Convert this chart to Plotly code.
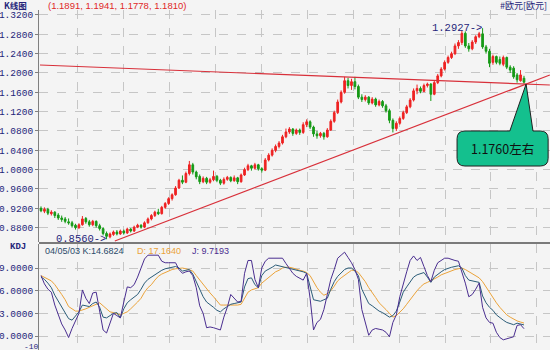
import plotly.graph_objects as go

# Weekly EUR/USD candles (oldest first), last bar dated 04/05/03
opens = [0.920, 0.914, 0.918, 0.909, 0.912, 0.906, 0.900, 0.898, 0.892, 0.890,
         0.885, 0.880, 0.886, 0.899, 0.892, 0.886, 0.893, 0.884, 0.878, 0.868,
         0.861, 0.866, 0.871, 0.867, 0.873, 0.869, 0.877, 0.873, 0.881, 0.885,
         0.881, 0.890, 0.898, 0.905, 0.912, 0.909, 0.922, 0.930, 0.940, 0.948,
         0.962, 0.978, 0.974, 0.992, 1.010, 0.995, 0.986, 0.975, 0.982, 0.974,
         0.979, 0.986, 0.978, 0.972, 0.980, 0.984, 0.977, 0.983, 0.975, 0.989,
         1.000, 1.008, 1.003, 1.010, 1.002, 0.999, 1.020, 1.030, 1.040, 1.048,
         1.055, 1.068, 1.078, 1.084, 1.075, 1.082, 1.077, 1.093, 1.099, 1.088,
         1.074, 1.070, 1.075, 1.068, 1.082, 1.100, 1.118, 1.140, 1.160, 1.184,
         1.174, 1.182, 1.172, 1.150, 1.145, 1.150, 1.138, 1.146, 1.134, 1.141,
         1.132, 1.122, 1.102, 1.085, 1.096, 1.106, 1.118, 1.130, 1.144, 1.163,
         1.168, 1.162, 1.174, 1.177, 1.156, 1.180, 1.194, 1.208, 1.222, 1.232,
         1.240, 1.256, 1.263, 1.282, 1.256, 1.250, 1.264, 1.275, 1.281, 1.254,
         1.245, 1.222, 1.234, 1.228, 1.218, 1.232, 1.212, 1.210, 1.196, 1.184,
         1.1891]
highs = [0.924, 0.922, 0.921, 0.916, 0.914, 0.910, 0.905, 0.902, 0.899, 0.894,
         0.888, 0.889, 0.904, 0.902, 0.896, 0.896, 0.895, 0.888, 0.881, 0.872,
         0.870, 0.874, 0.875, 0.876, 0.876, 0.880, 0.879, 0.884, 0.888, 0.887,
         0.893, 0.901, 0.908, 0.915, 0.919, 0.925, 0.933, 0.943, 0.951, 0.966,
         0.981, 0.988, 0.996, 1.018, 1.014, 0.998, 0.990, 0.986, 0.985, 0.983,
         0.998, 0.989, 0.981, 0.984, 0.987, 0.986, 0.988, 0.985, 0.992, 1.004,
         1.012, 1.010, 1.014, 1.012, 1.005, 1.024, 1.034, 1.044, 1.052, 1.059,
         1.072, 1.085, 1.088, 1.086, 1.085, 1.085, 1.098, 1.104, 1.102, 1.091,
         1.080, 1.078, 1.078, 1.086, 1.104, 1.122, 1.145, 1.164, 1.192, 1.190,
         1.188, 1.192, 1.176, 1.156, 1.154, 1.152, 1.150, 1.149, 1.145, 1.144,
         1.136, 1.126, 1.106, 1.100, 1.110, 1.122, 1.134, 1.148, 1.168, 1.176,
         1.172, 1.178, 1.180, 1.179, 1.184, 1.198, 1.212, 1.226, 1.236, 1.244,
         1.261, 1.268, 1.288, 1.286, 1.262, 1.268, 1.278, 1.285, 1.2927, 1.258,
         1.250, 1.238, 1.236, 1.234, 1.236, 1.234, 1.216, 1.214, 1.200, 1.206,
         1.1941]
lows = [0.912, 0.910, 0.906, 0.905, 0.900, 0.896, 0.892, 0.889, 0.886, 0.880,
        0.876, 0.877, 0.884, 0.888, 0.882, 0.883, 0.880, 0.874, 0.864, 0.856,
        0.858, 0.863, 0.864, 0.865, 0.866, 0.867, 0.870, 0.871, 0.879, 0.878,
        0.879, 0.888, 0.895, 0.902, 0.906, 0.907, 0.919, 0.927, 0.936, 0.946,
        0.960, 0.970, 0.972, 0.988, 0.990, 0.980, 0.970, 0.972, 0.970, 0.971,
        0.976, 0.974, 0.968, 0.969, 0.977, 0.974, 0.975, 0.970, 0.973, 0.987,
        0.997, 0.998, 1.000, 0.998, 0.994, 0.997, 1.017, 1.027, 1.036, 1.044,
        1.052, 1.065, 1.074, 1.070, 1.072, 1.072, 1.074, 1.088, 1.084, 1.068,
        1.064, 1.066, 1.062, 1.066, 1.080, 1.097, 1.115, 1.137, 1.157, 1.168,
        1.165, 1.166, 1.146, 1.140, 1.141, 1.134, 1.135, 1.130, 1.131, 1.128,
        1.118, 1.096, 1.077, 1.080, 1.093, 1.103, 1.115, 1.127, 1.141, 1.156,
        1.158, 1.160, 1.170, 1.142, 1.154, 1.177, 1.191, 1.205, 1.219, 1.229,
        1.237, 1.250, 1.258, 1.252, 1.244, 1.247, 1.260, 1.272, 1.250, 1.240,
        1.212, 1.217, 1.218, 1.216, 1.214, 1.208, 1.200, 1.188, 1.180, 1.182,
        1.1778]
closes = [0.915, 0.918, 0.910, 0.912, 0.905, 0.900, 0.897, 0.893, 0.890, 0.884,
          0.880, 0.886, 0.898, 0.892, 0.886, 0.893, 0.884, 0.878, 0.868, 0.862,
          0.867, 0.871, 0.867, 0.873, 0.869, 0.877, 0.873, 0.881, 0.885, 0.881,
          0.890, 0.898, 0.905, 0.912, 0.909, 0.922, 0.930, 0.940, 0.948, 0.962,
          0.978, 0.974, 0.992, 1.010, 0.995, 0.985, 0.975, 0.982, 0.974, 0.979,
          0.986, 0.978, 0.972, 0.980, 0.984, 0.977, 0.983, 0.975, 0.989, 1.000,
          1.008, 1.003, 1.010, 1.002, 0.999, 1.020, 1.030, 1.040, 1.048, 1.055,
          1.068, 1.078, 1.084, 1.075, 1.082, 1.077, 1.093, 1.099, 1.088, 1.074,
          1.070, 1.075, 1.068, 1.082, 1.100, 1.118, 1.140, 1.160, 1.184, 1.174,
          1.182, 1.172, 1.150, 1.145, 1.150, 1.138, 1.146, 1.134, 1.141, 1.132,
          1.122, 1.102, 1.085, 1.096, 1.106, 1.118, 1.130, 1.144, 1.163, 1.168,
          1.162, 1.174, 1.177, 1.156, 1.180, 1.194, 1.208, 1.222, 1.232, 1.240,
          1.256, 1.263, 1.282, 1.256, 1.250, 1.264, 1.275, 1.281, 1.254, 1.245,
          1.220, 1.234, 1.222, 1.220, 1.232, 1.212, 1.206, 1.192, 1.186, 1.196,
          1.1810]

# KDJ stochastic lines, one value per week
k_vals = [78, 75, 70, 64, 54, 46, 38, 31, 23, 21, 26, 32, 41, 40, 39, 43, 45, 38, 25, 24,
          27, 30, 31, 24, 36, 44, 48, 51, 55, 62, 70, 75, 78, 82, 85, 87, 89, 90, 91, 92,
          90, 86, 87, 88, 82, 72, 60, 52, 45, 42, 38, 34, 32, 36, 39, 42, 43, 44, 45, 65,
          76, 77, 68, 64, 80, 86, 88, 91, 94, 93, 92, 91, 90, 89, 87, 86, 85, 83, 66, 48,
          47, 46, 48, 50, 62, 72, 79, 84, 88, 90, 90, 86, 80, 62, 52, 43, 40, 36, 33, 31,
          28, 25, 27, 33, 45, 58, 65, 72, 78, 81, 83, 84, 78, 71, 78, 82, 85, 88, 90, 91,
          92, 93, 90, 80, 74, 73, 72, 71, 53, 44, 38, 34, 28, 24, 21, 18, 16, 15, 17, 16,
          14.6824]
d_vals = [80, 78, 76, 73, 68, 62, 55, 48, 39, 36, 33, 33, 34, 36, 38, 40, 42, 44, 40, 36,
          32, 31, 29, 28, 30, 32, 36, 40, 45, 50, 58, 64, 68, 74, 79, 82, 84, 87, 88, 89,
          90, 90, 89, 88, 86, 80, 74, 68, 62, 57, 52, 46, 41, 41, 41, 41, 41, 41, 42, 50,
          58, 61, 63, 64, 70, 74, 78, 81, 85, 87, 90, 91, 91, 90, 89, 87, 86, 84, 80, 72,
          64, 58, 54, 56, 60, 66, 73, 77, 80, 84, 87, 87, 84, 78, 72, 64, 58, 51, 44, 40,
          35, 30, 25, 27, 31, 36, 42, 48, 55, 60, 65, 69, 71, 73, 75, 78, 81, 83, 85, 87,
          88, 89, 90, 88, 85, 83, 80, 77, 72, 65, 58, 50, 44, 38, 33, 28, 25, 22, 20, 18.5,
          17.1640]
j_vals = [80, 69, 62, 58, 41, 28, 16, 8, -2, 10, 20, 30, 61, 50, 43, 57, 58, 34, 8, 4,
          17, 30, 27, 24, 45, 65, 64, 68, 78, 90, 102, 107, 107, 107, 107, 99, 97, 97, 97, 97,
          88, 83, 85, 86, 80, 64, 40, 30, 11, 12, 11, 9, 8, 25, 38, 55, 50, 45, 46, 83,
          100, 100, 75, 64, 90, 99, 103, 103, 103, 103, 103, 96, 90, 83, 79, 76, 74, 83, 50, 8,
          18, 22, 35, 55, 75, 88, 103, 107, 111, 104, 97, 88, 75, 35, 18, 1, 8, 10, 9, 8,
          5, -1, 18, 28, 52, 70, 85, 100, 106, 100, 104, 92, 80, 72, 87, 97, 100, 103, 103, 101,
          100, 99, 85, 70, 52, 55, 62, 70, 38, 24, 18, 17, 5, -2, -5, -4, -3, -1, 14, 15,
          9.7193]

last_date = "04/05/03"
price_ticks = [0.88, 0.92, 0.96, 1.00, 1.04, 1.08, 1.12, 1.16, 1.20, 1.24, 1.28, 1.32]
kdj_ticks = [0, 30, 60, 90]
kdj_tick_text = ["0.0000", "3.0000", "6.0000", "9.0000"]

# Trend lines: (week index, price) anchor pairs
resist_x = [-0.3, 147.5]
resist_y = [1.2165, 1.1751]
support_x = [21.4, 147.5]
support_y = [0.8523, 1.1958]
target_text = "1.1760左右"
symbol_text = "#欧元[欧元]"

weeks = list(range(len(closes)))
BG = "#f4f4f4"
NAVY = "#25257a"
MONO = "Liberation Mono, DejaVu Sans Mono, monospace"
SANS = "Liberation Sans, sans-serif"
CJK = "Noto Sans CJK SC, sans-serif"
X_RANGE = [-0.58, 147.54]

fig = go.Figure()

fig.add_trace(go.Candlestick(
    x=weeks, open=opens, high=highs, low=lows, close=closes,
    increasing=dict(line=dict(color="#ee2222", width=1), fillcolor="#ee2222"),
    decreasing=dict(line=dict(color="#169a16", width=1), fillcolor="#169a16"),
    whiskerwidth=0, xaxis="x", yaxis="y", showlegend=False, hoverinfo="skip"))

fig.add_trace(go.Scatter(x=resist_x, y=resist_y, mode="lines",
                         line=dict(color="#d8303a", width=1.2),
                         xaxis="x", yaxis="y", showlegend=False, hoverinfo="skip"))
fig.add_trace(go.Scatter(x=support_x, y=support_y, mode="lines",
                         line=dict(color="#d8303a", width=1.2),
                         xaxis="x", yaxis="y", showlegend=False, hoverinfo="skip"))

for vals, col in ((d_vals, "#eba33a"), (k_vals, "#2b5c78"), (j_vals, "#4a2e90")):
    fig.add_trace(go.Scatter(x=weeks, y=vals, mode="lines",
                             line=dict(color=col, width=1),
                             xaxis="x2", yaxis="y2", showlegend=False, hoverinfo="skip"))

# Where the two trend lines cross
rs = (resist_y[1] - resist_y[0]) / (resist_x[1] - resist_x[0])
ss = (support_y[1] - support_y[0]) / (support_x[1] - support_x[0])
cx = (support_y[0] - resist_y[0] + rs * resist_x[0] - ss * support_x[0]) / (rs - ss)
cy = resist_y[0] + rs * (cx - resist_x[0])

# Callout bubble pointing at the crossing
bx0, bx1, by0, by1 = 120.6, 147.0, 1.0075, 1.0800
px0, px1 = 135.9, 142.6
rx, ry = 2.3, 0.016
path = (f"M {bx0+rx},{by1} L {px0},{by1} L {cx},{cy} L {px1},{by1} L {bx1-rx},{by1} "
        f"Q {bx1},{by1} {bx1},{by1-ry} L {bx1},{by0+ry} Q {bx1},{by0} {bx1-rx},{by0} "
        f"L {bx0+rx},{by0} Q {bx0},{by0} {bx0},{by0+ry} L {bx0},{by1-ry} "
        f"Q {bx0},{by1} {bx0+rx},{by1} Z")

shapes = [
    dict(type="path", path=path, xref="x", yref="y", fillcolor="#14c08e",
         line=dict(color="#202020", width=1), layer="above"),
    dict(type="line", xref="paper", yref="paper", x0=0, x1=1,
         y0=1 - 243 / 350, y1=1 - 243 / 350, line=dict(color="#7a7a7a", width=2)),
]

hi_i = highs.index(max(highs))
lo_i = lows.index(min(lows))
last = len(closes) - 1


def px_x(p):
    return (p - 39) / 511


def px_y(p):
    return 1 - p / 350


annotations = [
    dict(text="<b>K线图</b>", x=px_x(2), y=px_y(5), xref="paper", yref="paper",
         xanchor="left", yanchor="middle", showarrow=False,
         font=dict(family=CJK, size=8.5, color=NAVY)),
    dict(text=f"({opens[last]:.4f}, {highs[last]:.4f}, {lows[last]:.4f}, {closes[last]:.4f})",
         x=px_x(46), y=px_y(6), xref="paper", yref="paper",
         xanchor="left", yanchor="middle", showarrow=False,
         font=dict(family=SANS, size=9.5, color="#e02828")),
    dict(text=symbol_text, x=px_x(549), y=px_y(6), xref="paper", yref="paper",
         xanchor="right", yanchor="middle", showarrow=False,
         font=dict(family=CJK, size=9, color=NAVY)),
    dict(text=f"{highs[hi_i]:.4f}->", x=hi_i, y=highs[hi_i], xref="x", yref="y",
         xanchor="right", yanchor="middle", showarrow=False, xshift=1,
         font=dict(family=MONO, size=10.5, color=NAVY)),
    dict(text=f"{lows[lo_i]:.4f}->", x=lo_i, y=lows[lo_i], xref="x", yref="y",
         xanchor="right", yanchor="middle", showarrow=False, xshift=1,
         font=dict(family=MONO, size=10.5, color=NAVY)),
    dict(text=target_text, x=(bx0 + bx1) / 2, y=(by0 + by1) / 2, xref="x", yref="y",
         xanchor="center", yanchor="middle", showarrow=False,
         font=dict(family=CJK, size=12.5, color="#101010")),
    dict(text="<b>KDJ</b>", x=px_x(8), y=px_y(247), xref="paper", yref="paper",
         xanchor="left", yanchor="middle", showarrow=False,
         font=dict(family=MONO, size=9, color=NAVY)),
    dict(text=f"{last_date} K:{k_vals[last]:.4f}", x=px_x(43), y=px_y(251),
         xref="paper", yref="paper", xanchor="left", yanchor="middle", showarrow=False,
         font=dict(family=SANS, size=9, color="#2b4a6a")),
    dict(text=f"D: {d_vals[last]:.4f}", x=px_x(135), y=px_y(251),
         xref="paper", yref="paper", xanchor="left", yanchor="middle", showarrow=False,
         font=dict(family=SANS, size=9, color="#eba33a")),
    dict(text=f"J: {j_vals[last]:.4f}", x=px_x(190), y=px_y(251),
         xref="paper", yref="paper", xanchor="left", yanchor="middle", showarrow=False,
         font=dict(family=SANS, size=9, color="#4a2e90")),
    dict(text="-10", x=px_x(22), y=px_y(346), xref="paper", yref="paper",
         xanchor="left", yanchor="middle", showarrow=False,
         font=dict(family=MONO, size=8, color=NAVY)),
]

grid = dict(showgrid=True, gridcolor="#c6c6c6", griddash="dash", gridwidth=1)
xcommon = dict(range=X_RANGE, showticklabels=False, ticks="", zeroline=False,
               showline=False, tick0=10.72, dtick=13.30, **grid)
ycommon = dict(showline=True, linecolor="#808080", linewidth=1, ticks="outside",
               ticklen=3, tickcolor="#808080", zeroline=False,
               tickfont=dict(family=MONO, size=9.5, color=NAVY), **grid)

fig.update_layout(
    width=550, height=350, autosize=False,
    margin=dict(l=39, r=0, t=0, b=0),
    paper_bgcolor=BG, plot_bgcolor=BG,
    showlegend=False,
    xaxis=dict(domain=[0, 1], anchor="y", rangeslider=dict(visible=False), **xcommon),
    xaxis2=dict(domain=[0, 1], anchor="y2", matches="x", **xcommon),
    yaxis=dict(domain=[1 - 242 / 350, 1 - 10 / 350], anchor="x",
               range=[0.8503, 1.3303], tickvals=price_ticks,
               ticktext=[f"{v:.4f}" for v in price_ticks], **ycommon),
    yaxis2=dict(domain=[0, 1 - 244 / 350], anchor="x2",
                range=[-18.5, 121.8], tickvals=kdj_ticks, ticktext=kdj_tick_text,
                **ycommon),
    shapes=shapes,
    annotations=annotations,
)

fig.write_html("out.html")
